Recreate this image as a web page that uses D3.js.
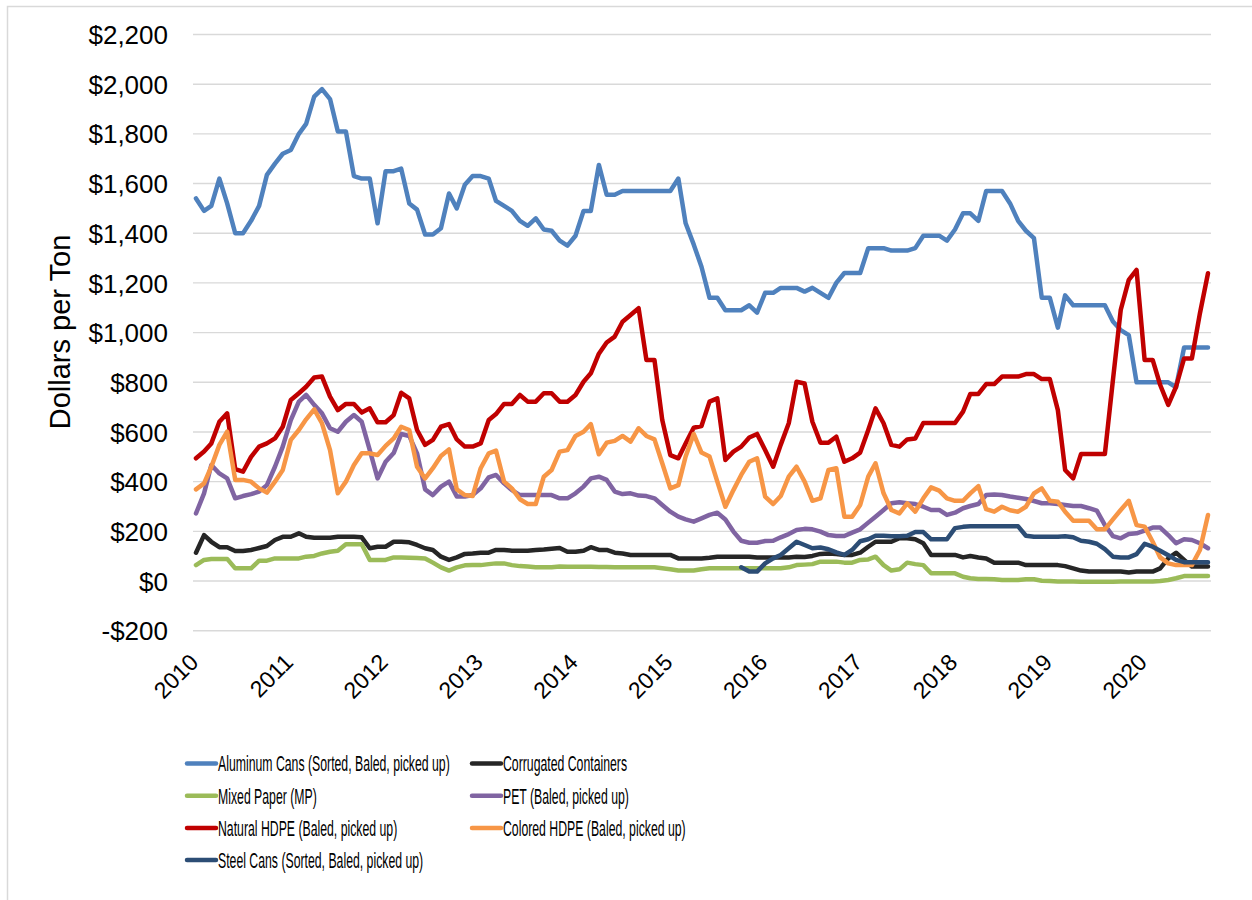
<!DOCTYPE html>
<html>
<head>
<meta charset="utf-8">
<script src="https://cdn.jsdelivr.net/npm/d3@7"></script>
<style>
  html, body { margin: 0; padding: 0; background: #fff; }
  svg { display: block; }
  .tick-label { font-family: "Liberation Sans", Arial, sans-serif; fill: #000; }
  .legend text { font-family: "Liberation Sans Narrow", "Liberation Sans", Arial, sans-serif; fill: #000; }
</style>
</head>
<body>
<svg width="1252" height="900"></svg>
<script>
// monthly prices, Jan 2010 .. Sep 2020
const firstMonth = new Date(2010, 0, 1);
const yearLabels = ["2010", "2011", "2012", "2013", "2014", "2015", "2016", "2017", "2018", "2019", "2020"];
const yTicks = [-200, 0, 200, 400, 600, 800, 1000, 1200, 1400, 1600, 1800, 2000, 2200];

const aluminum = [1540, 1490, 1510, 1620, 1520, 1400, 1400, 1450, 1510, 1635, 1680, 1720, 1735, 1800, 1840, 1950, 1980, 1940, 1810, 1810,
  1630, 1620, 1620, 1440, 1650, 1650, 1660, 1520, 1495, 1395, 1395, 1420, 1560, 1500, 1595, 1630, 1630, 1620, 1530, 1510,
  1490, 1450, 1430, 1460, 1415, 1410, 1370, 1350, 1390, 1490, 1490, 1675, 1555, 1555, 1570, 1570, 1570, 1570, 1570, 1570,
  1570, 1620, 1440, 1355, 1265, 1140, 1140, 1090, 1090, 1090, 1110, 1080, 1160, 1160, 1180, 1180, 1180, 1165, 1180, 1160,
  1140, 1200, 1240, 1240, 1240, 1340, 1340, 1340, 1330, 1330, 1330, 1340, 1390, 1390, 1390, 1370, 1415, 1480, 1480, 1450,
  1570, 1570, 1570, 1520, 1450, 1410, 1380, 1140, 1140, 1020, 1150, 1110, 1110, 1110, 1110, 1110, 1045, 1010, 990, 800,
  800, 800, 800, 800, 780, 940, 940, 940, 940];

const corrugated = [114, 185, 158, 136, 136, 121, 121, 125, 133, 141, 165, 178, 178, 192, 178, 174, 174, 174, 178, 178,
  178, 176, 132, 138, 138, 158, 158, 156, 145, 132, 125, 98, 85, 95, 109, 111, 114, 114, 125, 125,
  122, 122, 122, 125, 127, 130, 133, 118, 118, 122, 136, 125, 125, 114, 111, 105, 105, 105, 105, 105,
  105, 91, 91, 91, 91, 94, 98, 98, 98, 98, 98, 95, 95, 95, 95, 95, 98, 97, 101, 109,
  111, 109, 105, 105, 114, 138, 158, 158, 158, 172, 172, 168, 152, 105, 105, 105, 105, 95, 101, 95,
  91, 74, 74, 74, 74, 64, 64, 64, 64, 64, 60, 51, 42, 38, 38, 38, 38, 38, 34, 38,
  38, 38, 51, 91, 114, 85, 58, 58, 58];

const mixedPaper = [64, 85, 89, 89, 89, 51, 51, 51, 82, 82, 91, 91, 91, 91, 98, 101, 111, 118, 122, 148,
  148, 148, 85, 85, 85, 95, 95, 94, 93, 91, 74, 55, 42, 55, 63, 64, 64, 68, 71, 71,
  64, 60, 58, 55, 55, 55, 58, 57, 57, 57, 57, 56, 56, 55, 55, 55, 55, 55, 55, 51,
  47, 42, 42, 42, 47, 51, 51, 51, 51, 51, 51, 51, 51, 51, 51, 55, 64, 66, 68, 78,
  78, 78, 74, 74, 85, 87, 98, 64, 42, 47, 74, 68, 64, 31, 31, 31, 31, 17, 11, 8,
  8, 7, 4, 4, 4, 7, 7, 1, 0, -2, -2, -2, -3, -3, -3, -3, -3, -2, -2, -2,
  -2, -2, 0, 4, 11, 20, 20, 20, 20];

const pet = [272, 353, 467, 433, 413, 333, 342, 350, 360, 386, 460, 541, 648, 722, 749, 709, 675, 615, 601, 641,
  668, 641, 527, 413, 480, 515, 592, 584, 514, 369, 346, 380, 400, 340, 340, 346, 373, 417, 427, 393,
  366, 346, 346, 346, 346, 346, 333, 333, 353, 380, 413, 420, 407, 360, 350, 353, 344, 342, 333, 306,
  279, 259, 248, 239, 252, 266, 275, 248, 199, 162, 154, 154, 161, 162, 176, 189, 205, 210, 208, 199,
  185, 181, 181, 195, 208, 235, 259, 286, 313, 317, 313, 310, 299, 286, 286, 266, 275, 293, 302, 310,
  346, 348, 346, 340, 335, 330, 322, 313, 313, 310, 306, 302, 302, 293, 283, 225, 181, 172, 189, 192,
  203, 215, 215, 185, 152, 168, 165, 152, 132];

const naturalHdpe = [494, 521, 554, 641, 675, 450, 440, 500, 541, 554, 574, 621, 729, 756, 782, 819, 823, 742, 688, 713,
  713, 678, 695, 639, 639, 668, 758, 735, 608, 548, 568, 621, 632, 570, 541, 541, 554, 648, 672, 713,
  713, 749, 722, 722, 756, 756, 722, 722, 749, 802, 836, 915, 960, 984, 1044, 1071, 1098, 890, 890, 648,
  507, 494, 554, 617, 624, 722, 735, 487, 521, 541, 578, 592, 527, 460, 548, 635, 802, 795, 641, 557,
  557, 581, 480, 494, 517, 608, 695, 635, 548, 541, 570, 574, 636, 636, 636, 636, 636, 682, 753, 753,
  793, 793, 823, 823, 823, 833, 833, 813, 813, 688, 447, 413, 511, 511, 511, 511, 809, 1091, 1212, 1252,
  890, 890, 789, 709, 782, 896, 896, 1078, 1239];

const coloredHdpe = [369, 393, 460, 548, 601, 407, 407, 400, 373, 356, 400, 447, 568, 608, 651, 691, 635, 527, 353, 400,
  467, 514, 514, 507, 544, 574, 621, 608, 460, 413, 454, 503, 530, 369, 346, 342, 454, 514, 525, 400,
  373, 329, 310, 310, 420, 447, 521, 527, 584, 601, 632, 510, 557, 564, 584, 561, 615, 584, 570, 474,
  373, 386, 501, 592, 517, 501, 400, 299, 366, 427, 480, 494, 340, 310, 342, 420, 460, 400, 323, 333,
  447, 454, 259, 259, 306, 420, 474, 353, 286, 272, 313, 279, 333, 377, 364, 333, 323, 323, 353, 382,
  289, 279, 299, 285, 279, 299, 353, 373, 323, 319, 279, 243, 243, 243, 208, 208, 248, 286, 323, 225,
  219, 158, 95, 71, 64, 64, 64, 125, 266];

// steel cans series only starts in Oct 2015
const steelCans = [null, null, null, null, null, null, null, null, null, null, null, null, null, null, null, null, null, null, null, null,
  null, null, null, null, null, null, null, null, null, null, null, null, null, null, null, null, null, null, null, null,
  null, null, null, null, null, null, null, null, null, null, null, null, null, null, null, null, null, null, null, null,
  null, null, null, null, null, null, null, null, null, 55, 38, 38, 71, 91, 105, 132, 158, 145, 132, 135,
  128, 115, 105, 125, 160, 168, 182, 182, 180, 180, 182, 197, 197, 168, 168, 168, 213, 218, 220, 220,
  220, 220, 220, 220, 220, 182, 178, 178, 178, 178, 180, 176, 162, 158, 150, 128, 98, 95, 95, 108,
  150, 138, 122, 104, 85, 76, 76, 76, 76];

const seriesNames = ["Aluminum Cans (Sorted, Baled, picked up)", "Corrugated Containers", "Mixed Paper (MP)",
  "PET (Baled, picked up)", "Natural HDPE (Baled, picked up)", "Colored HDPE (Baled, picked up)",
  "Steel Cans (Sorted, Baled, picked up)"];
const seriesColors = ["#4f81bd", "#262626", "#9bbb59", "#8064a2", "#c00000", "#f79646", "#2c4d75"];
const seriesValues = [aluminum, corrugated, mixedPaper, pet, naturalHdpe, coloredHdpe, steelCans];

const svg = d3.select("svg");
svg.append("rect").attr("width", 1252).attr("height", 900).attr("fill", "#fff");
// outer chart frame (runs off the right and bottom edge)
svg.append("rect")
  .attr("x", 7.5).attr("y", 6.5).attr("width", 1270).attr("height", 920)
  .attr("fill", "none").attr("stroke", "#d9d9d9").attr("stroke-width", 1.5);

const months = aluminum.map((v, i) => d3.timeMonth.offset(firstMonth, i));
const x = d3.scaleTime()
  .domain([months[0], months[months.length - 1]])
  .range([196, 1208]);
const y = d3.scaleLinear().domain([-200, 2200]).range([630.7, 34.5]);

const plotLeft = 193, plotRight = 1211;

// gridlines
svg.append("g").selectAll("line")
  .data(yTicks)
  .enter().append("line")
  .attr("x1", plotLeft).attr("x2", plotRight)
  .attr("y1", d => y(d)).attr("y2", d => y(d))
  .attr("stroke", "#d9d9d9").attr("stroke-width", 1.4);

// y axis labels
const fmt = d3.format(",.0f");
const yAxis = d3.axisLeft(y).tickValues(yTicks).tickSize(0).tickPadding(0)
  .tickFormat(d => (d < 0 ? "-$" : "$") + fmt(Math.abs(d)));
const yg = svg.append("g").attr("transform", "translate(168,0)").call(yAxis);
yg.select(".domain").remove();
yg.selectAll("text")
  .attr("class", "tick-label")
  .attr("dy", "0.35em")
  .style("font-size", "26px")
  .style("font-family", "'Liberation Sans', Arial, sans-serif")
  .attr("fill", "#000");

// x axis labels (rotated)
svg.append("g").selectAll("text")
  .data(yearLabels)
  .enter().append("text")
  .attr("class", "tick-label")
  .attr("transform", d => `translate(${x(new Date(+d, 0, 1)) - 2},658) rotate(-45)`)
  .attr("text-anchor", "end")
  .attr("dy", "0.35em")
  .style("font-size", "23px")
  .text(d => d);

// y title
svg.append("text")
  .attr("class", "tick-label")
  .attr("transform", "translate(70,332) rotate(-90)")
  .attr("text-anchor", "middle")
  .style("font-size", "29px")
  .text("Dollars per Ton");

// lines
const line = d3.line()
  .defined(d => d.v != null)
  .x(d => x(d.date))
  .y(d => y(d.v));

svg.append("g").selectAll("path")
  .data(seriesValues)
  .enter().append("path")
  .attr("d", vals => line(vals.map((v, i) => ({ date: months[i], v: v }))))
  .attr("fill", "none")
  .attr("stroke", (d, i) => seriesColors[i])
  .attr("stroke-width", 4.5)
  .attr("stroke-linejoin", "round")
  .attr("stroke-linecap", "round");

// legend, two columns filled row by row
const legend = svg.append("g").attr("class", "legend");
const items = legend.selectAll("g")
  .data(seriesNames)
  .enter().append("g")
  .attr("transform", (d, i) => `translate(${i % 2 === 0 ? 187 : 472},${763.5 + Math.floor(i / 2) * 32.2})`);

items.append("line")
  .attr("x1", 0).attr("x2", 29)
  .attr("stroke", (d, i) => seriesColors[i])
  .attr("stroke-width", 4.5)
  .attr("stroke-linecap", "round");

const labels = items.append("text")
  .attr("x", 31)
  .attr("dy", "0.36em")
  .style("font-size", "22px")
  .text(d => d);

// squeeze the legend text horizontally to the condensed look of the original
const w0 = labels.node().getComputedTextLength();
const sx = 232 / w0;
labels.attr("transform", `translate(31,0) scale(${sx},1) translate(-31,0)`);
</script>
</body>
</html>
